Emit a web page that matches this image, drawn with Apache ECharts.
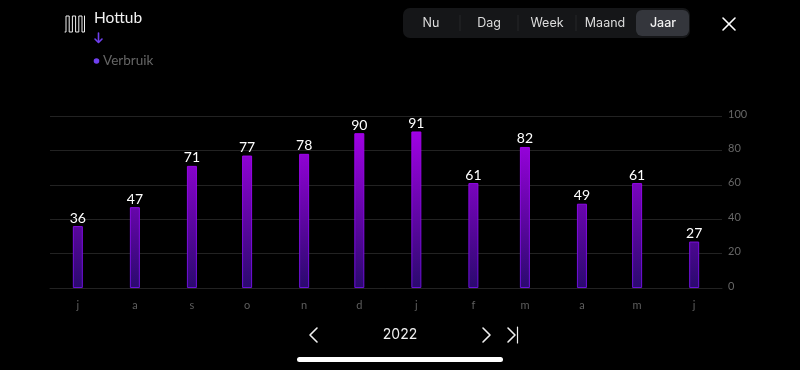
<!DOCTYPE html>
<html>
<head>
<meta charset="utf-8">
<style>
  html, body { margin: 0; padding: 0; background: #000; }
  #chart { width: 800px; height: 370px; }
</style>
<script src="https://cdn.jsdelivr.net/npm/echarts@6/dist/echarts.min.js"></script>
</head>
<body>
<div id="chart"></div>
<script>
// staven staan op de eerste van de maand, februari is dus zichtbaar korter
const monthStarts = ['2021-07-01', '2021-08-01', '2021-09-01', '2021-10-01', '2021-11-01', '2021-12-01',
  '2022-01-01', '2022-02-01', '2022-03-01', '2022-04-01', '2022-05-01', '2022-06-01'];
const monthLetters = ['j', 'f', 'm', 'a', 'm', 'j', 'j', 'a', 's', 'o', 'n', 'd'];
const verbruik = [36, 47, 71, 77, 78, 90, 91, 61, 82, 49, 61, 27];
const yTicks = [0, 20, 40, 60, 80, 100];
const tabs = ['Nu', 'Dag', 'Week', 'Maand', 'Jaar'];
const activeTab = 'Jaar';
const title = 'Hottub';
const seriesName = 'Verbruik';
const year = '2022';

const chart = echarts.init(document.getElementById('chart'), null, { width: 800, height: 370 });

const localTime = s => new Date(s + 'T00:00:00').getTime();

// header + footer
const tabCenters = [431, 489, 547, 605, 663];
const tabGraphics = tabs.map((t, i) => ({
  type: 'text',
  style: {
    text: t, x: tabCenters[i], y: 23.5, align: 'center', verticalAlign: 'middle',
    fill: t === activeTab ? '#f2f2f2' : '#dcdcdc',
    font: (t === activeTab ? '500 ' : '400 ') + '12.5px Inter'
  }
}));
const tabDividers = [460, 518, 576].map(x => ({
  type: 'line',
  shape: { x1: x, y1: 15, x2: x, y2: 31 },
  style: { stroke: '#262729', lineWidth: 1 }
}));
const line = (points, color, width) => ({
  type: 'polyline',
  shape: { points },
  style: { stroke: color, lineWidth: width, fill: null, lineCap: 'round', lineJoin: 'round' }
});

chart.setOption({
  backgroundColor: '#000',
  animation: false,
  grid: { left: 50, right: 78, top: 116, bottom: 82 },
  xAxis: {
    type: 'time',
    // echarts rekt de tijdas nog iets op voor de staafbreedte, vandaar krapper dan een halve maand
    min: localTime('2021-06-18') + 14 * 3600e3,
    max: localTime('2022-06-13') + 10 * 3600e3,
    splitNumber: 12,
    splitLine: { show: false },
    axisLine: { lineStyle: { color: '#222', width: 1 } },
    axisTick: { show: false },
    axisLabel: {
      color: '#5e5e5e',
      fontSize: 11,
      fontFamily: 'Lato',
      fontWeight: 'normal',
      margin: 12,
      showMinLabel: false,
      showMaxLabel: false,
      hideOverlap: false,
      formatter: value => {
        const d = new Date(value);
        return d.getDate() === 1 ? monthLetters[d.getMonth()] : '';
      }
    }
  },
  yAxis: {
    type: 'value',
    position: 'right',
    min: yTicks[0],
    max: yTicks[yTicks.length - 1],
    interval: 20,
    axisLine: { show: false },
    axisTick: { show: false },
    splitLine: { lineStyle: { color: '#222', width: 1 } },
    // labels staan net boven het midden van de lijn
    axisLabel: { color: '#666', fontSize: 11, fontFamily: 'Lato', margin: 6, verticalAlign: 'bottom', lineHeight: 4 }
  },
  series: [{
    name: seriesName,
    type: 'bar',
    data: monthStarts.map((d, i) => [localTime(d), verbruik[i]]),
    barWidth: 10,
    itemStyle: {
      // kleur loopt over de hele plothoogte, niet per staaf
      color: new echarts.graphic.LinearGradient(0, 116, 0, 288, [
        { offset: 0, color: '#ac00f0' },
        { offset: 1, color: '#2a0a6e' }
      ], true),
      borderColor: new echarts.graphic.LinearGradient(0, 116, 0, 288, [
        { offset: 0, color: '#ac00f0' },
        { offset: 1, color: '#6a10d8' }
      ], true),
      borderWidth: 1
    },
    label: {
      show: true,
      position: 'top',
      distance: 1,
      color: '#fff',
      fontSize: 14,
      fontFamily: 'Lato',
      formatter: p => p.value[1]
    }
  }],
  graphic: [
    // tab bar
    { type: 'rect', shape: { x: 403, y: 8, width: 287, height: 30, r: 7 }, style: { fill: '#151618' } },
    { type: 'rect', shape: { x: 636, y: 10, width: 53, height: 26, r: 6 }, style: { fill: '#34363c' } },
    ...tabDividers,
    ...tabGraphics,
    // sluiten
    line([[723, 18], [735, 30]], '#fff', 1.6),
    line([[735, 18], [723, 30]], '#fff', 1.6),
    // hottub icoon
    line([[65, 32], [66, 32], [66, 16], [69.2, 16], [69.2, 32], [72.4, 32], [72.4, 16], [75.6, 16], [75.6, 32],
      [78.8, 32], [78.8, 16], [82, 16], [82, 32], [84.5, 32], [84.5, 16]], '#f0f0f0', 1),
    { type: 'text', style: { text: title, x: 94, y: 17.5, verticalAlign: 'middle', fill: '#f2f2f2', font: '400 15.5px Lato' } },
    // pijl
    line([[98.5, 33], [98.5, 42]], '#7040f0', 1.6),
    line([[95, 39], [98.5, 42.5], [102, 39]], '#7040f0', 1.6),
    // legenda
    { type: 'circle', shape: { cx: 96.5, cy: 61, r: 2.8 }, style: { fill: '#7040f0' } },
    { type: 'text', style: { text: seriesName, x: 103, y: 61, verticalAlign: 'middle', fill: '#666', font: '400 13.5px Lato' } },
    // jaar navigatie
    line([[317, 328], [310, 335], [317, 342]], '#f0f0f0', 1.6),
    { type: 'text', style: { text: year, x: 400, y: 335, align: 'center', verticalAlign: 'middle', fill: '#f0f0f0', font: '400 14px Inter' } },
    line([[483, 328], [490, 335], [483, 342]], '#f0f0f0', 1.6),
    line([[508, 328], [515, 335], [508, 342]], '#f0f0f0', 1.6),
    line([[517.5, 327], [517.5, 343]], '#f0f0f0', 1.2),
    // home indicator
    { type: 'rect', shape: { x: 297, y: 357, width: 206, height: 5, r: 2.5 }, style: { fill: '#fff' } }
  ]
});
</script>
</body>
</html>
